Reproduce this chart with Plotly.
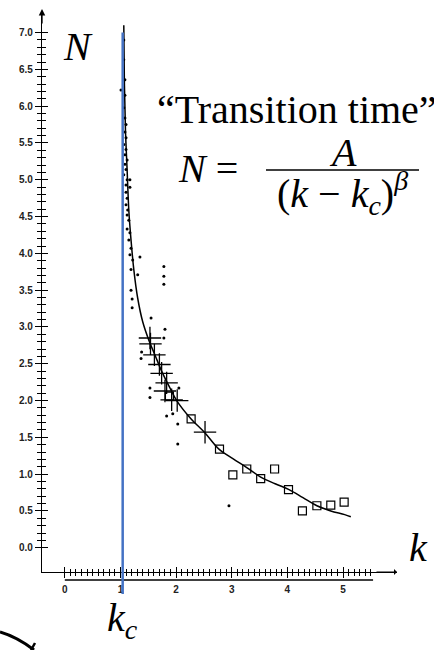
import plotly.graph_objects as go

# ---------------- data ----------------
kc = 1.04

curve_k = [1.06, 1.07, 1.09, 1.12, 1.15, 1.19, 1.24, 1.31, 1.40, 1.51, 1.62, 1.74,
           1.89, 2.01, 2.27, 2.52, 2.77, 3.02, 3.27, 3.52, 3.78, 4.03, 4.28, 4.53,
           4.78, 5.03, 5.14]
curve_N = [7.10, 6.36, 5.68, 5.13, 4.59, 4.18, 3.78, 3.39, 3.07, 2.82, 2.62, 2.40,
           2.17, 2.00, 1.75, 1.56, 1.34, 1.21, 1.09, 0.96, 0.87, 0.79, 0.68, 0.57,
           0.50, 0.45, 0.42]

dot_k = [1.06, 1.06, 1.08, 1.01, 1.08, 1.06, 1.08, 1.10, 1.08, 1.10, 1.06, 1.10,
         1.08, 1.12, 1.08, 1.10, 1.06, 1.12, 1.17, 1.10, 1.17, 1.10, 1.12, 1.10,
         1.13, 1.12, 1.15, 1.12, 1.17, 1.15, 1.19, 1.17, 1.35, 1.22, 1.19, 1.31,
         1.78, 1.78, 1.78, 1.19, 1.21, 1.21, 1.55, 1.80, 1.78, 1.38, 1.37, 1.53,
         1.53, 2.05, 1.83, 1.94, 2.03, 2.03, 2.95]
dot_N = [6.90, 6.63, 6.36, 6.22, 6.15, 5.98, 5.84, 5.75, 5.65, 5.57, 5.48, 5.41,
         5.34, 5.27, 5.21, 5.14, 5.07, 5.00, 5.00, 4.93, 4.90, 4.83, 4.75, 4.66,
         4.59, 4.52, 4.45, 4.33, 4.28, 4.18, 4.07, 3.98, 3.95, 3.91, 3.78, 3.71,
         3.82, 3.69, 3.58, 3.50, 3.38, 3.26, 3.12, 2.97, 2.85, 2.66, 2.57, 2.17,
         2.04, 2.17, 1.79, 1.82, 1.68, 1.41, 0.57]

cross_k = [1.53, 1.54, 1.61, 1.70, 1.74, 1.83, 1.80, 1.92, 2.02, 2.52]
cross_N = [2.85, 2.77, 2.62, 2.49, 2.37, 2.24, 2.13, 2.01, 2.00, 1.57]

square_k = [1.88, 2.27, 2.78, 3.02, 3.27, 3.52, 3.77, 4.02, 4.27, 4.53, 4.78, 5.02]
square_N = [2.06, 1.75, 1.34, 0.99, 1.07, 0.94, 1.07, 0.79, 0.50, 0.57, 0.58, 0.62]

x_major = [0, 1, 2, 3, 4, 5]
x_major_text = ["0", "1", "2", "3", "4", "5"]
x_minor = [i / 10 for i in range(0, 56) if i % 10 != 0]
y_major = [i / 2 for i in range(0, 15)]
y_major_text = ["%.1f" % v for v in y_major]
y_minor = [i / 10 for i in range(0, 71) if i % 5 != 0]

x_range = [-0.41, 5.97]
y_range = [-0.33, 7.28]

# ---------------- layout geometry ----------------
W, H = 434, 650
L, R, T, B = 42, 37, 12, 78
PW, PH = W - L - R, H - T - B


def px(x):
    return (x - L) / PW


def py(y):
    return (H - B - y) / PH


def ypaper(v):
    return (v - y_range[0]) / (y_range[1] - y_range[0])


SERIF = "Liberation Serif"
TICKFONT = dict(family="Liberation Sans", size=10, color="#222", weight="bold")

fig = go.Figure()
fig.add_trace(go.Scatter(x=curve_k, y=curve_N, mode="lines",
                         line=dict(color="black", width=1.5, shape="spline"),
                         hoverinfo="skip", showlegend=False))
fig.add_trace(go.Scatter(x=square_k, y=square_N, mode="markers",
                         marker=dict(symbol="square-open", size=8, color="black",
                                     line=dict(width=1.2, color="black")),
                         showlegend=False))
fig.add_trace(go.Scatter(x=cross_k, y=cross_N, mode="markers",
                         marker=dict(symbol="cross-thin-open", size=16, color="black",
                                     line=dict(width=1.3, color="black")),
                         showlegend=False))
fig.add_trace(go.Scatter(x=dot_k, y=dot_N, mode="markers", xaxis="x2", yaxis="y2",
                         marker=dict(symbol="circle", size=3, color="black"),
                         showlegend=False))

axis_common = dict(showgrid=False, zeroline=False, fixedrange=True)

fig.update_layout(
    width=W, height=H,
    margin=dict(l=L, r=R, t=T, b=B, pad=0),
    paper_bgcolor="white", plot_bgcolor="white",
    showlegend=False,
    xaxis=dict(range=x_range, showline=True, linecolor="black", linewidth=1.3,
               ticks="outside", ticklen=5, tickwidth=1.2, tickcolor="black",
               tickmode="array", tickvals=x_major, ticktext=x_major_text,
               tickfont=TICKFONT, ticklabelstandoff=3,
               minor=dict(tickmode="array", tickvals=x_minor, ticks="outside",
                          ticklen=3, tickwidth=1, tickcolor="black"),
               **axis_common),
    xaxis2=dict(range=x_range, overlaying="x", anchor="y2", side="bottom",
                showline=False, ticks="inside", ticklen=5, tickwidth=1.2,
                tickcolor="black", tickmode="array", tickvals=x_major,
                showticklabels=False,
                minor=dict(tickmode="array", tickvals=x_minor, ticks="inside",
                           ticklen=3, tickwidth=1, tickcolor="black"),
                **axis_common),
    yaxis=dict(range=y_range, showline=True, linecolor="black", linewidth=1.3,
               ticks="outside", ticklen=6, tickwidth=1.2, tickcolor="black",
               tickmode="array", tickvals=y_major, ticktext=y_major_text,
               tickfont=TICKFONT,
               minor=dict(tickmode="array", tickvals=y_minor, ticks="outside",
                          ticklen=3.5, tickwidth=1, tickcolor="black"),
               **axis_common),
    yaxis2=dict(range=y_range, overlaying="y", anchor="x2", side="left",
                showline=False, ticks="inside", ticklen=6, tickwidth=1.2,
                tickcolor="black", tickmode="array", tickvals=y_major,
                showticklabels=False,
                minor=dict(tickmode="array", tickvals=y_minor, ticks="inside",
                           ticklen=3.5, tickwidth=1, tickcolor="black"),
                **axis_common),
)

shapes = [
    # lower rule under the k axis
    dict(type="line", xref="x", yref="paper", x0=0, x1=5.54,
         y0=py(580), y1=py(580), line=dict(color="black", width=1.3)),
    # critical value k_c
    dict(type="line", xref="x", yref="paper", x0=kc, x1=kc,
         y0=py(594), y1=ypaper(7.0), line=dict(color="#4472C4", width=2.5),
         layer="above"),
    # fraction bar
    dict(type="line", xref="paper", yref="paper", x0=px(266), x1=px(419),
         y0=py(170), y1=py(170), line=dict(color="black", width=1.5)),
    # stray stroke at bottom-left
    dict(type="path", xref="paper", yref="paper",
         path=f"M {px(0)},{py(632)} Q {px(17)},{py(637)} {px(34)},{py(650)}",
         line=dict(color="black", width=3)),
    dict(type="line", xref="paper", yref="paper", x0=px(31), x1=px(35),
         y0=py(650), y1=py(643), line=dict(color="black", width=2.5)),
]

TXT = dict(family=SERIF, size=40, color="black")
annotations = [
    # axis arrows
    dict(xref="paper", yref="paper", x=0, y=py(9), ax=0, ay=16, text="",
         showarrow=True, arrowhead=2, arrowsize=1, arrowwidth=1.3, arrowcolor="black"),
    dict(xref="paper", yref="paper", x=px(397), y=0, ax=-22, ay=0, text="",
         showarrow=True, arrowhead=1, arrowsize=1, arrowwidth=1.0, arrowcolor="black"),
    # labels
    dict(xref="paper", yref="paper", x=px(78), y=py(46), text="<i>N</i>",
         xanchor="center", yanchor="middle", showarrow=False, font=TXT),
    dict(xref="paper", yref="paper", x=px(155), y=py(109), xanchor="left",
         yanchor="middle", text="\u201cTransition time\u201d", showarrow=False,
         font=TXT),
    dict(xref="paper", yref="paper", x=px(176), y=py(168), xanchor="left",
         yanchor="middle", text="<i>N</i> =", showarrow=False, font=TXT),
    dict(xref="paper", yref="paper", x=px(343), y=py(152), text="<i>A</i>",
         xanchor="center", yanchor="middle", showarrow=False, font=TXT),
    dict(xref="paper", yref="paper", x=px(342), y=py(193),
         text="(<i>k</i> \u2212 <i>k<sub>c</sub></i>)<sup><i>\u03b2</i></sup>",
         xanchor="center", yanchor="middle", showarrow=False, font=TXT),
    dict(xref="paper", yref="paper", x=px(418), y=py(547), text="<i>k</i>",
         xanchor="center", yanchor="middle", showarrow=False, font=TXT),
    dict(xref="paper", yref="paper", x=px(122), y=py(620), text="<i>k<sub>c</sub></i>",
         xanchor="center", yanchor="middle", showarrow=False, font=TXT),
]

fig.update_layout(shapes=shapes, annotations=annotations)
fig.write_html("out.html")
